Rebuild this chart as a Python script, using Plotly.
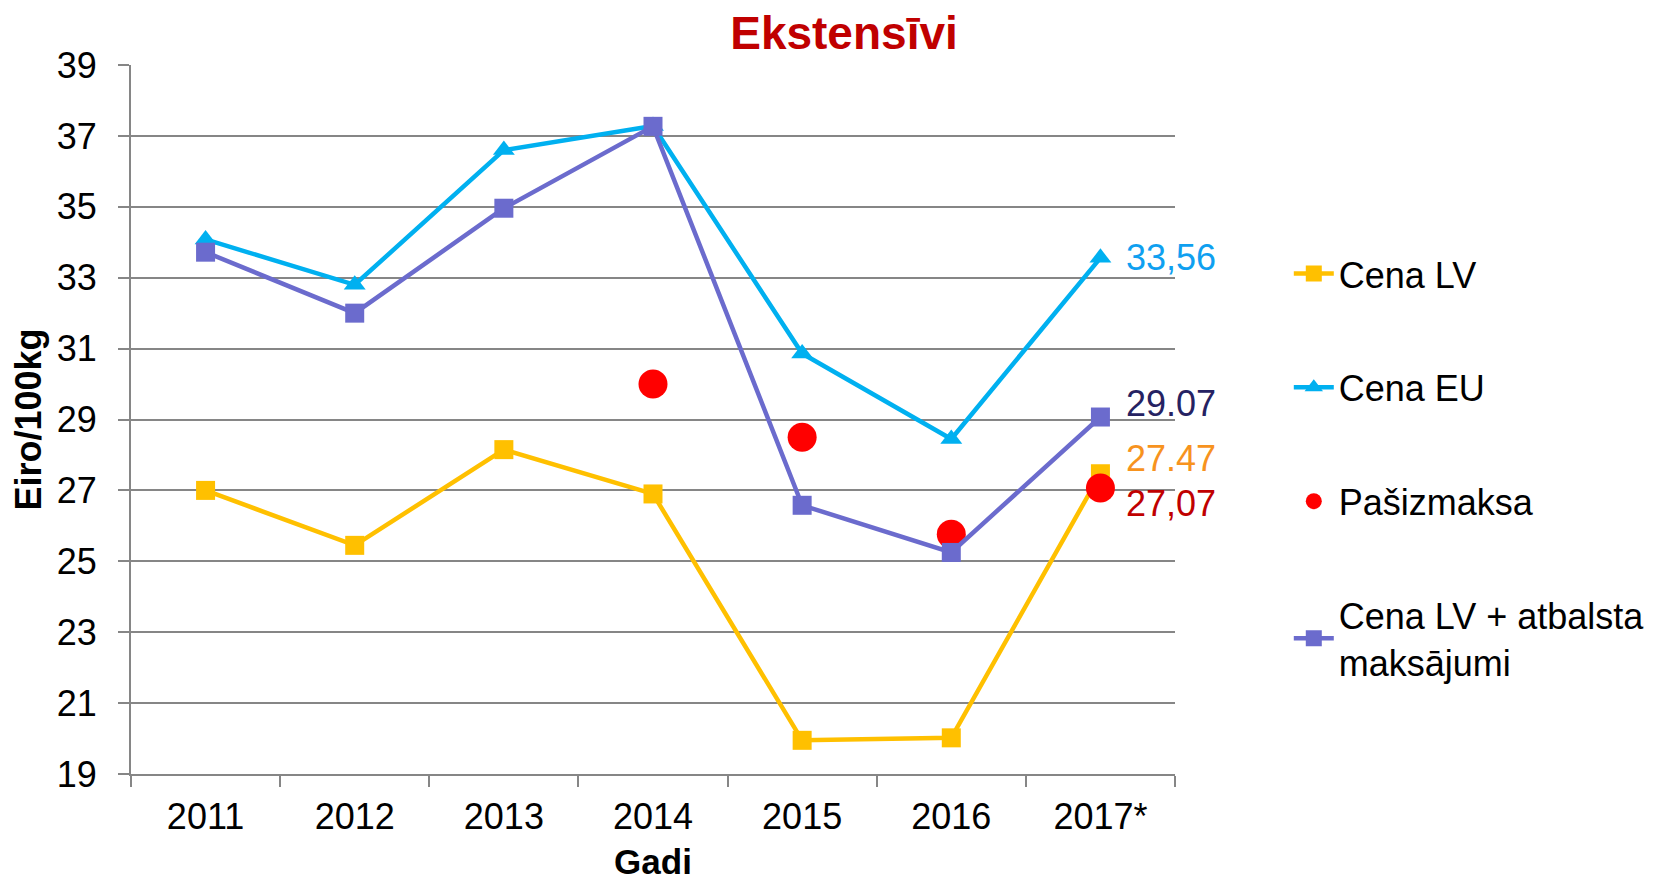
import plotly.graph_objects as go

years = ["2011", "2012", "2013", "2014", "2015", "2016", "2017*"]
cena_lv = [27.0, 25.45, 28.15, 26.9, 19.95, 20.02, 27.47]
cena_eu = [34.08, 32.8, 36.6, 37.28, 30.86, 28.45, 33.56]
pasizmaksa_years = ["2014", "2015", "2016", "2017*"]
pasizmaksa = [30.0, 28.5, 25.76, 27.07]
cena_lv_atb = [33.72, 32.0, 34.96, 37.27, 26.58, 25.25, 29.07]

FONT = "Liberation Sans, Arial, sans-serif"

fig = go.Figure()
fig.add_trace(go.Scatter(x=years, y=cena_lv, mode="lines+markers", name="Cena LV",
                         line=dict(color="#FFC000", width=4.5), legendgroup="g1",
                         marker=dict(symbol="square", size=19, color="#FFC000")))
fig.add_trace(go.Scatter(x=years, y=cena_eu, mode="lines+markers", name="Cena EU",
                         line=dict(color="#00B0F0", width=4.5), legendgroup="g2",
                         marker=dict(symbol="triangle-up", size=19, color="#00B0F0")))
fig.add_trace(go.Scatter(x=pasizmaksa_years, y=pasizmaksa, mode="markers", name="Pašizmaksa",
                         legendgroup="g3",
                         marker=dict(symbol="circle", size=29, color="#FF0000")))
fig.add_trace(go.Scatter(x=years, y=cena_lv_atb, mode="lines+markers",
                         name="Cena LV + atbalsta<br>maksājumi", legendgroup="g4",
                         line=dict(color="#6B6BCD", width=4.5),
                         marker=dict(symbol="square", size=19, color="#6B6BCD")))

# data labels for the last year
labels = [
    (cena_eu[-1], "33,56", "#0FA0F0", 0),
    (cena_lv_atb[-1], "29.07", "#262262", 14),
    (cena_lv[-1], "27.47", "#F7931E", 15),
    (pasizmaksa[-1], "27,07", "#C00000", -16),
]
for yv, txt, col, ys in labels:
    fig.add_annotation(x=years[-1], y=yv, text=txt, showarrow=False, xanchor="left",
                       xshift=24, yshift=ys, font=dict(size=36, color=col, family=FONT))

fig.update_layout(
    width=1667, height=873,
    paper_bgcolor="white", plot_bgcolor="white",
    margin=dict(l=123, r=500, t=57, b=107),
    title=dict(text="<b>Ekstensīvi</b>", x=0.5015, xanchor="center", y=0.972, yanchor="middle",
               font=dict(size=46, color="#C00000", family=FONT)),
    font=dict(family=FONT, size=36, color="black"),
    showlegend=True,
    legend=dict(x=1.109, xanchor="left", y=0.748, yanchor="top",
                font=dict(size=36, color="black", family=FONT),
                tracegroupgap=64, itemwidth=40, traceorder="grouped",
                bgcolor="rgba(0,0,0,0)"),
)

fig.update_xaxes(type="category", showgrid=False, showline=True, linecolor="#868686", linewidth=2,
                 ticks="outside", tickson="boundaries", ticklen=11, tickcolor="#868686", tickwidth=2,
                 tickfont=dict(size=36, family=FONT), ticklabelstandoff=10, automargin=False,
                 title=dict(text="<b>Gadi</b>", font=dict(size=35, family=FONT), standoff=20),
                 range=[-0.5, 6.5])
fig.update_yaxes(range=[19, 39], dtick=2, tick0=19, showgrid=True, gridcolor="#868686", gridwidth=2,
                 showline=True, linecolor="#868686", linewidth=2, ticks="outside", ticklen=11,
                 tickcolor="#868686", tickwidth=2, tickfont=dict(size=36, family=FONT), zeroline=False,
                 ticklabelstandoff=14, automargin=False,
                 title=dict(text="<b>Eiro/100kg</b>", font=dict(size=36, family=FONT), standoff=10))

fig.write_html("out.html")
